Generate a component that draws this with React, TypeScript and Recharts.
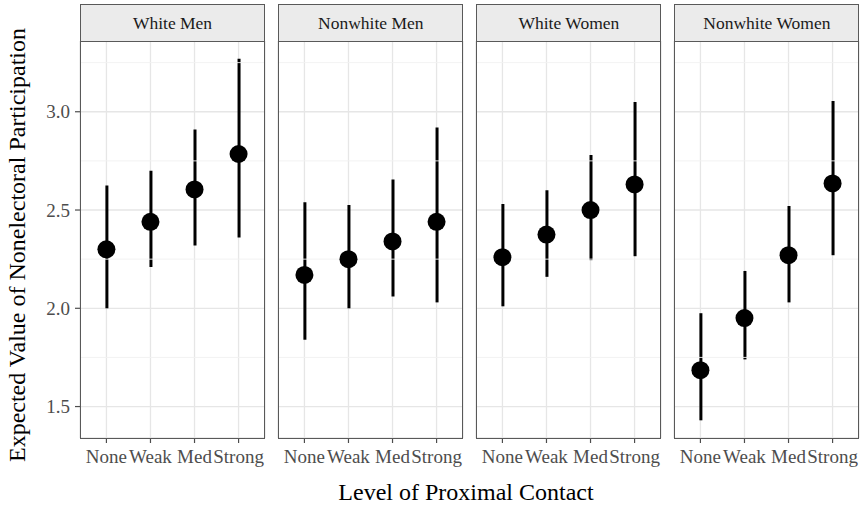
import React from 'react';
import { ComposedChart, Bar, Line, XAxis, YAxis, CartesianGrid, ReferenceLine } from 'recharts';

const levels = ['None', 'Weak', 'Med', 'Strong'];
const groups = ['White Men', 'Nonwhite Men', 'White Women', 'Nonwhite Women'];

const whiteMenEst = [2.3, 2.44, 2.605, 2.785];
const whiteMenLo = [2.0, 2.21, 2.32, 2.36];
const whiteMenHi = [2.625, 2.7, 2.91, 3.27];

const nonwhiteMenEst = [2.17, 2.25, 2.34, 2.44];
const nonwhiteMenLo = [1.84, 2.0, 2.06, 2.03];
const nonwhiteMenHi = [2.54, 2.525, 2.655, 2.92];

const whiteWomenEst = [2.26, 2.375, 2.5, 2.63];
const whiteWomenLo = [2.01, 2.16, 2.245, 2.265];
const whiteWomenHi = [2.53, 2.6, 2.78, 3.05];

const nonwhiteWomenEst = [1.685, 1.95, 2.27, 2.635];
const nonwhiteWomenLo = [1.43, 1.74, 2.03, 2.27];
const nonwhiteWomenHi = [1.975, 2.19, 2.52, 3.055];

const yTicks = [1.5, 2.0, 2.5, 3.0];
const yMinor = [1.75, 2.25, 2.75, 3.25];
const yDomain = [1.34, 3.36];

const series = [
  { est: whiteMenEst, lo: whiteMenLo, hi: whiteMenHi },
  { est: nonwhiteMenEst, lo: nonwhiteMenLo, hi: nonwhiteMenHi },
  { est: whiteWomenEst, lo: whiteWomenLo, hi: whiteWomenHi },
  { est: nonwhiteWomenEst, lo: nonwhiteWomenLo, hi: nonwhiteWomenHi },
];

const FONT = '"Liberation Serif", "Times New Roman", serif';
const panelLefts = [80, 278.3, 476.4, 674.4];
const panelW = 185;
const plotTop = 41;
const plotH = 397;
const chartTop = 31;
const borderColor = '#595959';

function Panel({ index }: { index: number }) {
  const s = series[index];
  const data = levels.map((lv, i) => ({ level: lv, est: s.est[i], range: [s.lo[i], s.hi[i]] }));
  const first = index === 0;
  const leftPart = first ? 80 : 10;
  const width = leftPart + panelW + 10;
  const left = panelLefts[index] - leftPart;
  return (
    <div style={{ position: 'absolute', left, top: chartTop }}>
      <ComposedChart
        width={width}
        height={10 + plotH + 40}
        data={data}
        margin={{ top: 10, right: 10, bottom: 0, left: first ? 0 : 10 }}
      >
        <CartesianGrid stroke="#e6e6e6" strokeWidth={1.3} />
        {yMinor.map((v) => (
          <ReferenceLine key={v} y={v} stroke="#f0f0f0" strokeWidth={0.9} ifOverflow="hidden" />
        ))}
        <XAxis
          dataKey="level"
          type="category"
          padding={{ left: 4.4, right: 4.4 }}
          axisLine={false}
          tickLine={{ stroke: '#4d4d4d', strokeWidth: 1.2 }}
          tickSize={5}
          tickMargin={7}
          height={40}
          interval={0}
          tick={{ fill: '#4d4d4d', fontSize: 19, fontFamily: FONT }}
        />
        <YAxis
          hide={!first}
          width={80}
          domain={yDomain}
          ticks={yTicks}
          allowDataOverflow
          type="number"
          axisLine={false}
          tickLine={{ stroke: '#4d4d4d', strokeWidth: 1.2 }}
          tickSize={5}
          tickMargin={5}
          tickFormatter={(v: number) => v.toFixed(1)}
          tick={{ fill: '#4d4d4d', fontSize: 19, fontFamily: FONT }}
        />
        <Bar dataKey="range" barSize={3} fill="#000" isAnimationActive={false} />
        <Line
          dataKey="est"
          stroke="none"
          dot={{ r: 9, fill: '#000', stroke: 'none' }}
          activeDot={false}
          isAnimationActive={false}
        />
      </ComposedChart>
    </div>
  );
}

export default function App() {
  return (
    <div
      style={{
        position: 'absolute',
        left: 0,
        top: 0,
        width: 863,
        height: 506,
        background: '#fff',
        overflow: 'hidden',
        fontFamily: FONT,
      }}
    >
      {groups.map((g, i) => (
        <Panel key={g} index={i} />
      ))}
      {groups.map((g, i) => (
        <React.Fragment key={'f' + g}>
          <div
            style={{
              position: 'absolute',
              left: panelLefts[i],
              top: 4,
              width: panelW,
              height: 38,
              boxSizing: 'border-box',
              border: `1px solid ${borderColor}`,
              background: '#ebebeb',
              display: 'flex',
              alignItems: 'center',
              justifyContent: 'center',
              fontSize: 17.5,
              color: '#1a1a1a',
            }}
          >
            {g}
          </div>
          <div
            style={{
              position: 'absolute',
              left: panelLefts[i],
              top: plotTop,
              width: panelW,
              height: plotH + 1,
              boxSizing: 'border-box',
              border: `1px solid ${borderColor}`,
              pointerEvents: 'none',
            }}
          />
        </React.Fragment>
      ))}
      <svg
        width={863}
        height={506}
        style={{ position: 'absolute', left: 0, top: 0, pointerEvents: 'none' }}
      >
        <text
          x={25}
          y={245}
          transform="rotate(-90 25 245)"
          textAnchor="middle"
          fontSize={24}
          fontFamily={FONT}
          fill="#000"
        >
          Expected Value of Nonelectoral Participation
        </text>
        <text x={466} y={500} textAnchor="middle" fontSize={24} fontFamily={FONT} fill="#000">
          Level of Proximal Contact
        </text>
      </svg>
    </div>
  );
}
